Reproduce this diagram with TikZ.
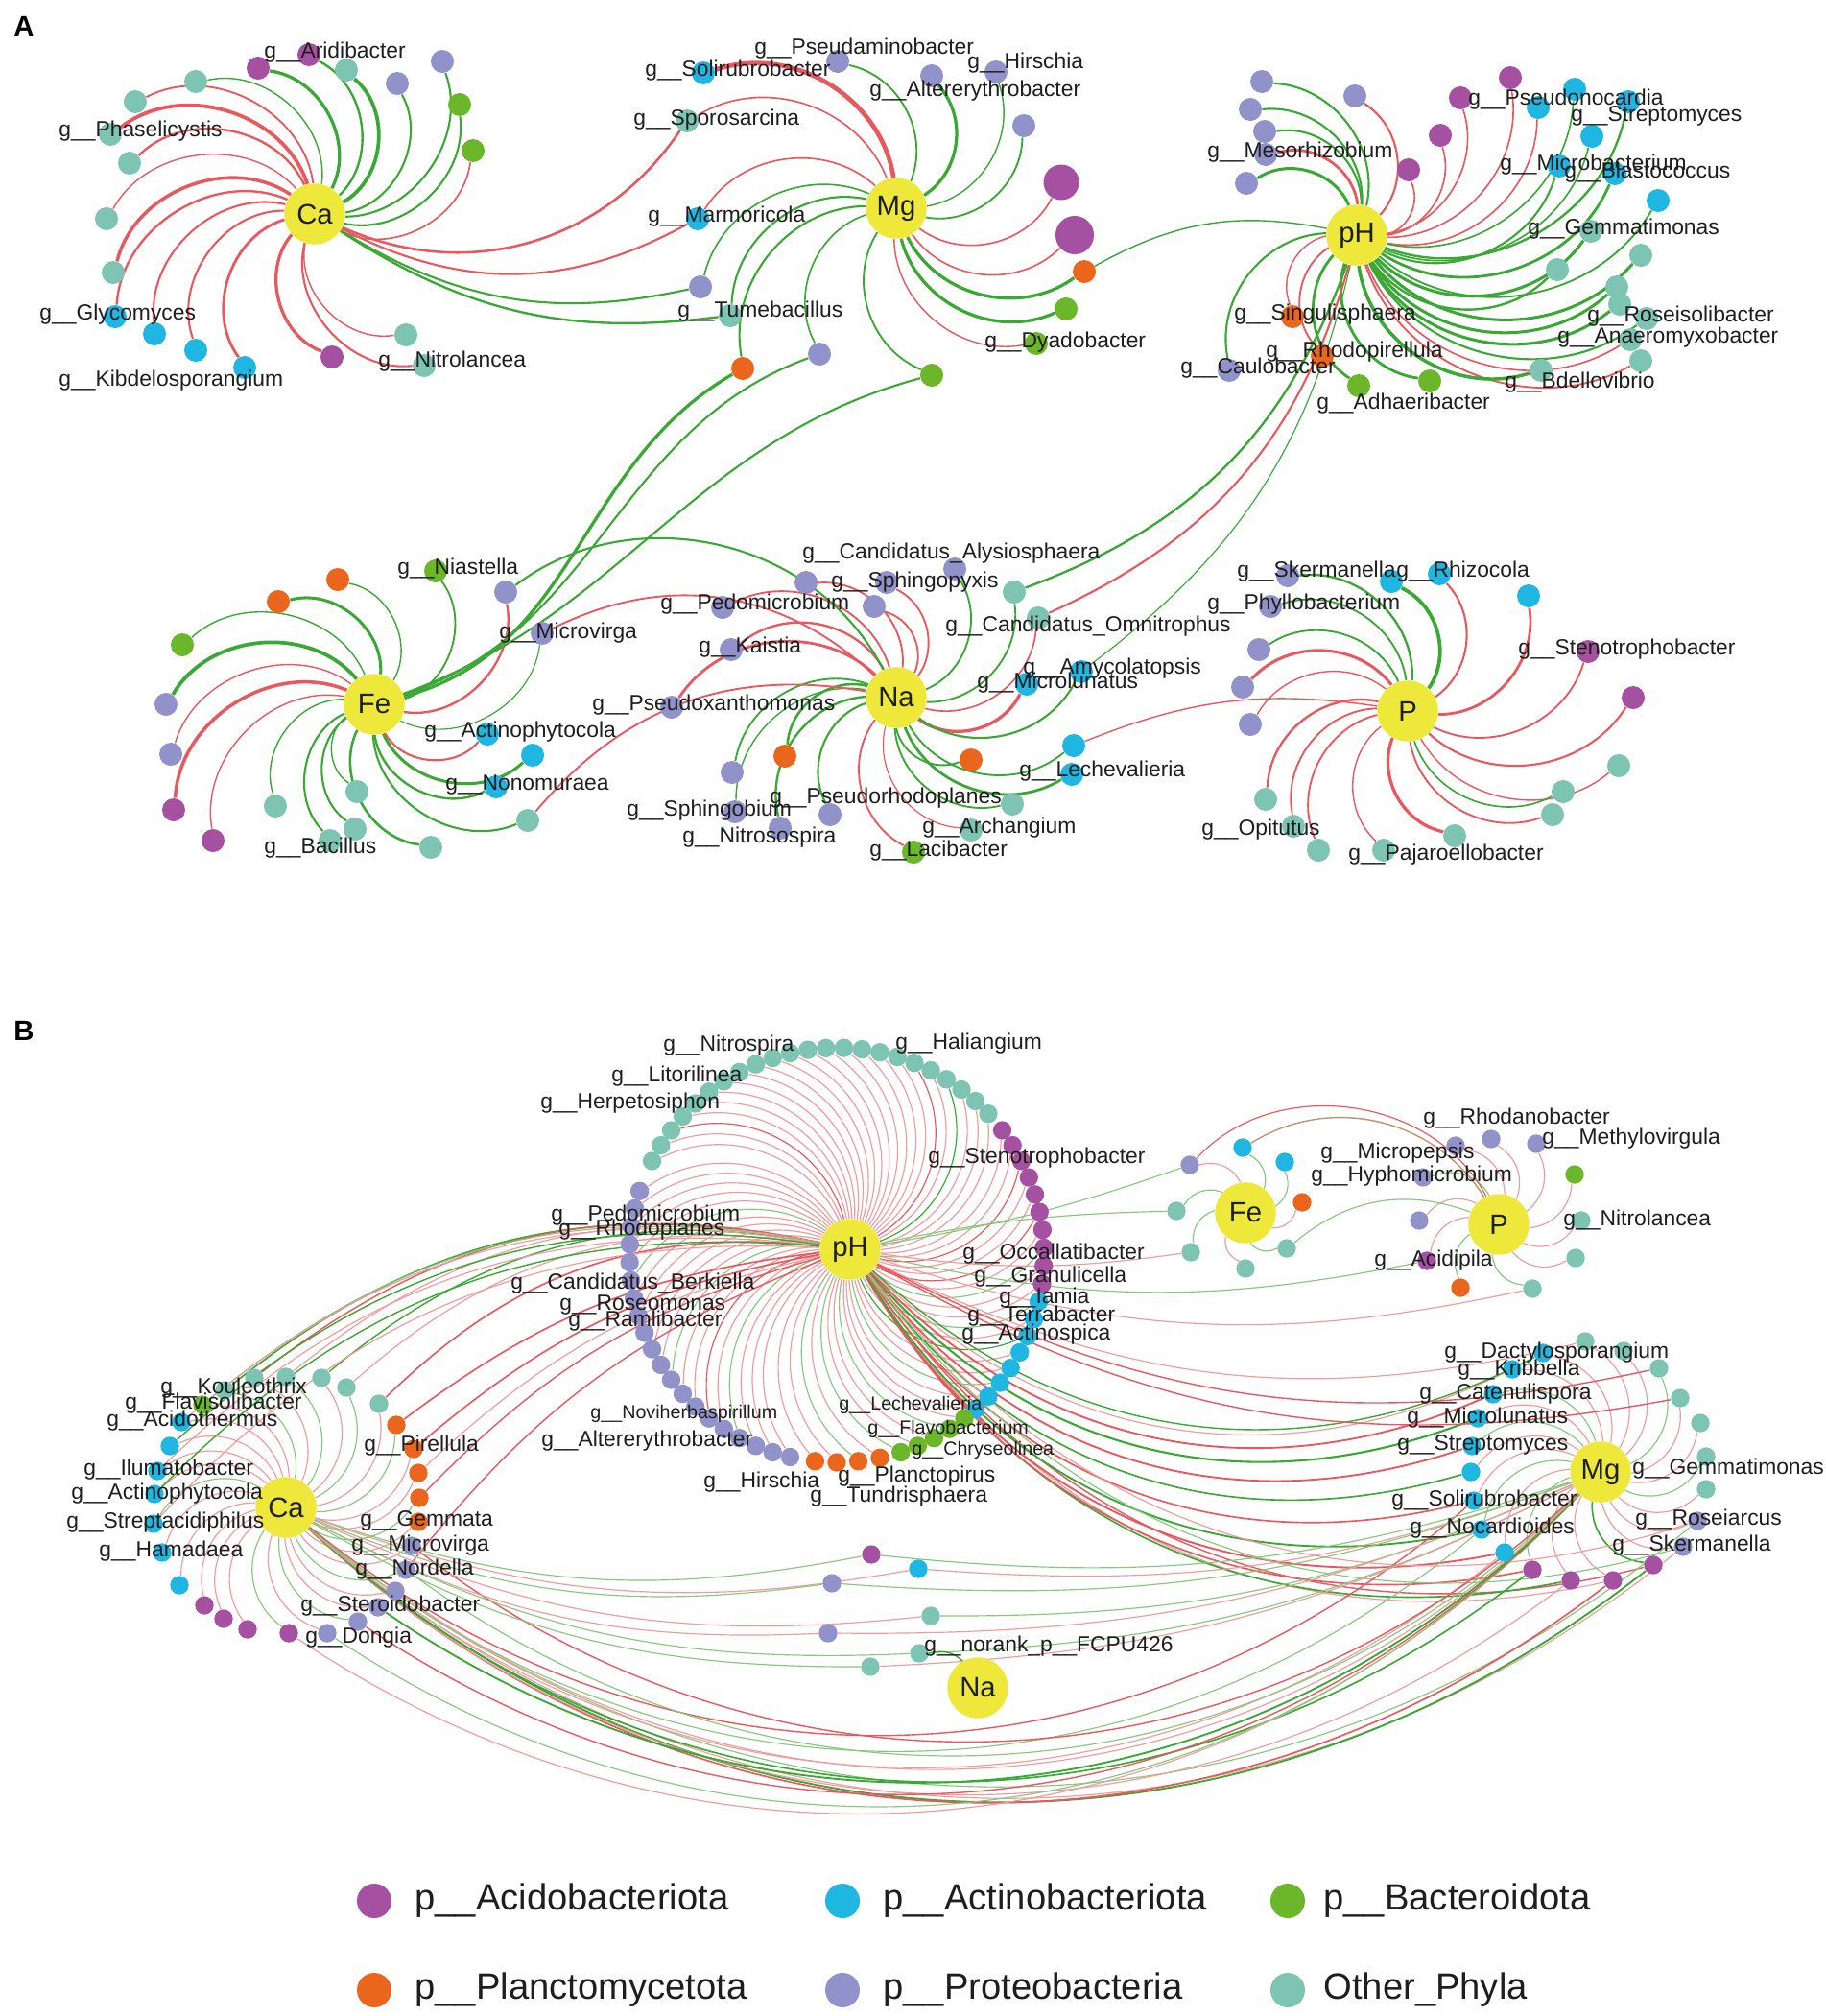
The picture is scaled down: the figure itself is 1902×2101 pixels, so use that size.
\documentclass[tikz,border=0pt]{standalone}
\usepackage{fontspec}
\setmainfont{Liberation Sans}
\definecolor{cAc}{RGB}{165,80,160}
\definecolor{cAn}{RGB}{32,182,226}
\definecolor{cBa}{RGB}{108,182,42}
\definecolor{cPl}{RGB}{234,102,28}
\definecolor{cPr}{RGB}{146,146,202}
\definecolor{cOt}{RGB}{126,196,178}
\definecolor{hubY}{RGB}{238,232,58}
\definecolor{eR}{RGB}{232,88,94}
\definecolor{eG}{RGB}{58,168,52}
\definecolor{eRl}{RGB}{240,155,158}
\definecolor{eGl}{RGB}{135,200,125}
\definecolor{eBr}{RGB}{190,150,110}
\definecolor{txt}{RGB}{30,30,30}
\pgfdeclarelayer{back}
\pgfdeclarelayer{bg}
\pgfsetlayers{back,bg,main}
\tikzset{
  lf/.style={circle,fill=#1,minimum size=0.36cm,inner sep=0pt,draw=none},
  lb/.style={circle,fill=#1,minimum size=0.29cm,inner sep=0pt,draw=none},
  hub/.style={circle,fill=hubY,minimum size=0.95cm,inner sep=0pt,text=txt,font=\fontsize{12.5}{14}\selectfont},
  lab/.style={anchor=west,inner sep=0pt,text=txt,font=\fontsize{9.75}{11}\selectfont},
  labs/.style={anchor=west,inner sep=0pt,text=txt,font=\fontsize{8.4}{10}\selectfont},
  legdot/.style={circle,fill=#1,minimum size=0.54cm,inner sep=0pt},
  legtxt/.style={anchor=west,inner sep=0pt,text=txt,font=\fontsize{16.3}{18}\selectfont},
  panel/.style={inner sep=0pt,text=black,font=\bfseries\fontsize{12.5}{14}\selectfont}
}
\newcommand\mknodes[2]{\foreach \n/\x/\y/\c/\e/\w in #2 {\node[#1=\c] (\n) at (\x,-\y) {};}}
\newcommand\mkedges[3]{\foreach \n/\x/\y/\c/\e/\w in #3 {\draw[draw=\e,line width=\w pt] (#1) to[bend right=#2] (\n);}}
\newcommand\mkring[3]{\foreach \a/\e [count=\i] in #3 {\node[lb=#1] (#2\i) at ({872+216*cos(\a)},{-1308+216*sin(\a)}) {};}}
\newcommand\mkringedges[2]{\foreach \a/\e [count=\i] in #2 {\draw[draw=\e,line width=0.5pt] (bpH) to[bend right=45] (#1\i);}}

\def\LCa{ca1/269/71/cAc/eG/1.4, ca2/322/57/cAc/eG/1.0, ca3/361/73/cOt/eG/1.6, ca4/414/87/cPr/eG/0.9, ca5/461/64/cPr/eG/0.9, ca6/479/109/cBa/eG/0.9, ca7/493/157/cBa/eR/0.7, ca8/204/85/cOt/eG/0.6, ca9/141/106/cOt/eR/0.8, ca10/115/140/cOt/eR/1.6, ca11/135/170/cOt/eR/1.0, ca12/111/228/cOt/eR/0.6, ca13/118/284/cOt/eR/1.5, ca14/120/330/cAn/eR/1.0, ca15/161/348/cAn/eR/0.9, ca16/204/365/cAn/eR/0.9, ca17/255/383/cAn/eR/1.2, ca18/346/372/cAc/eR/1.4, ca19/423/349/cOt/eR/0.6, ca20/442/381/cOt/eR/0.9}
\def\LMg{mg1/733/76/cAn/eR/2.0, mg2/873/64/cPr/eG/0.8, mg3/971/79/cPr/eG/1.4, mg4/1038/75/cPr/eG/0.6, mg5/1067/131/cPr/eG/0.8, mg8/1130/283/cPl/eG/1.4, mg9/1111/322/cBa/eG/1.4, mg10/1080/358/cBa/eR/0.6, mg11/971/391/cBa/eG/0.8, mg12/854/369/cPr/eG/0.7, mg13/774/384/cPl/eG/0.9, mg14/761/329/cOt/eG/0.9, mg15/730/299/cPr/eG/0.7, mg16/727/228/cAn/eR/0.7, mg17/716/126/cOt/eR/0.7}
\def\LpH{ph1/1315/85/cPr/eG/0.9, ph2/1303/114/cPr/eG/0.9, ph3/1318/137/cPr/eG/0.9, ph4/1319/161/cPr/eR/1.2, ph5/1299/191/cPr/eG/1.3, ph6/1412/100/cPr/eR/0.9, ph7/1468/177/cAc/eR/0.7, ph8/1501/141/cAc/eR/0.7, ph9/1522/102/cAc/eR/0.7, ph10/1574/81/cAc/eR/0.7, ph11/1603/112/cAn/eR/0.7, ph12/1641/93/cAn/eG/0.7, ph13/1697/106/cAn/eG/1.0, ph14/1659/142/cAn/eG/0.7, ph15/1625/173/cAn/eG/0.9, ph16/1683/181/cAn/eG/1.2, ph17/1728/209/cAn/eG/0.8, ph18/1658/241/cOt/eG/1.3, ph19/1623/281/cOt/eG/1.0, ph20/1710/266/cOt/eG/1.3, ph21/1685/299/cOt/eG/1.3, ph22/1688/317/cOt/eG/1.3, ph23/1716/332/cOt/eG/0.9, ph24/1699/354/cOt/eR/0.7, ph25/1710/376/cOt/eR/0.8, ph26/1606/386/cOt/eG/1.5, ph27/1490/397/cBa/eG/1.2, ph28/1416/402/cBa/eG/1.2, ph29/1378/371/cPl/eR/0.8, ph30/1347/330/cPl/eR/0.6, ph31/1281/386/cPr/eG/0.9}
\def\LFe{fe1/352/604/cPl/eG/0.6, fe2/290/627/cPl/eG/1.3, fe3/190/672/cBa/eG/0.6, fe4/173/734/cPr/eG/1.6, fe5/178/786/cPr/eR/0.6, fe6/181/844/cAc/eR/1.5, fe7/222/876/cAc/eR/0.6, fe8/287/840/cOt/eG/0.6, fe9/372/825/cOt/eG/0.6, fe10/370/864/cOt/eG/0.9, fe11/344/876/cOt/eG/0.9, fe12/449/883/cOt/eG/1.1, fe13/550/855/cOt/eG/0.9, fe14/517/820/cAn/eG/1.0, fe15/555/787/cAn/eG/1.3, fe16/508/765/cAn/eR/0.9, fe17/565/660/cPr/eG/0.5, fe18/527/617/cPr/eR/1.0, fe19/454/595/cBa/eG/0.8}
\def\LNa{na1/840/607/cPr/eR/0.8, na2/924/607/cPr/eR/0.8, na3/995/593/cPr/eG/0.8, na4/911/632/cPr/eR/0.8, na5/753/633/cPr/eR/0.8, na6/762/677/cPr/eR/1.0, na7/700/737/cPr/eR/1.2, na8/763/805/cPr/eG/0.8, na9/818/788/cPl/eG/1.1, na10/766/846/cPr/eG/0.6, na11/813/863/cPr/eG/1.0, na12/865/849/cPr/eG/0.9, na13/952/888/cBa/eR/0.8, na14/1012/865/cOt/eR/0.5, na15/1055/838/cOt/eG/0.8, na16/1012/792/cPl/eG/0.8, na17/1117/807/cAn/eG/1.2, na18/1119/777/cAn/eG/0.8, na19/1070/713/cAn/eR/1.4, na20/1127/700/cAn/eG/0.9, na21/1057/617/cOt/eG/0.8, na22/1082/644/cOt/eR/0.7}
\def\LP{p1/1342/600/cPr/eG/1.0, p2/1450/606/cAn/eG/1.6, p3/1500/598/cAn/eR/0.9, p4/1593/621/cAn/eR/1.2, p5/1324/632/cPr/eG/0.8, p6/1312/677/cPr/eG/0.8, p7/1295/716/cPr/eR/1.3, p8/1303/755/cPr/eR/0.6, p9/1655/679/cAc/eR/0.8, p10/1702/727/cAc/eR/0.9, p11/1687/798/cOt/eR/0.6, p12/1629/825/cOt/eG/0.7, p13/1618/849/cOt/eR/0.8, p14/1516/871/cOt/eR/1.4, p15/1442/886/cOt/eR/0.6, p16/1374/886/cOt/eR/0.8, p17/1348/861/cOt/eR/0.8, p18/1319/833/cOt/eR/1.0}

\def\LbFe{f1/1240/1214/cPr/eRl/0.5, f2/1295/1196/cAn/eGl/0.5, f3/1339/1211/cAn/eGl/0.5, f4/1357/1253/cPl/eRl/0.5, f5/1226/1262/cOt/eGl/0.5, f6/1241/1305/cOt/eGl/0.5, f7/1298/1322/cOt/eRl/0.5, f8/1341/1301/cOt/eGl/0.5}
\def\LbP{q1/1554/1187/cPr/eRl/0.5, q2/1517/1194/cPr/eRl/0.5, q3/1601/1192/cPr/eRl/0.5, q4/1483/1227/cPr/eGl/0.5, q5/1641/1224/cBa/eRl/0.5, q6/1479/1272/cPr/eRl/0.5, q7/1648/1272/cOt/eRl/0.5, q8/1487/1314/cAc/eRl/0.5, q9/1522/1342/cPl/eGl/0.5, q10/1642/1311/cOt/eRl/0.5, q11/1597/1343/cOt/eGl/0.5}
\def\LbCa{c1/234/1449/cOt/eGl/0.5, c2/265/1436/cOt/eRl/0.5, c3/298/1435/cOt/eGl/0.5, c4/335/1436/cOt/eRl/0.5, c5/361/1446/cOt/eGl/0.5, c6/395/1463/cOt/eRl/0.5, c7/211/1464/cBa/eRl/0.5, c8/189/1482/cAn/eRl/0.5, c9/177/1507/cAn/eRl/0.5, c10/164/1533/cAn/eRl/0.5, c11/161/1557/cAn/eRl/0.5, c12/160/1588/cAn/eGl/0.5, c13/169/1618/cAn/eRl/0.5, c14/187/1652/cAn/eRl/0.5, c15/213/1673/cAc/eRl/0.5, c16/233/1687/cAc/eRl/0.5, c17/258/1698/cAc/eRl/0.5, c18/301/1702/cAc/eGl/0.5, c19/341/1702/cPr/eRl/0.5, c20/373/1690/cPr/eGl/0.5, c21/394/1675/cPr/eRl/0.5, c22/412/1658/cPr/eRl/0.5, c23/423/1636/cPr/eGl/0.5, c24/429/1611/cPr/eRl/0.5, c25/436/1586/cPl/eRl/0.5, c26/437/1561/cPl/eGl/0.5, c27/436/1535/cPl/eRl/0.5, c28/431/1510/cPl/eRl/0.5, c29/413/1485/cPl/eGl/0.5}
\def\LbMg{m1/1652/1398/cOt/eRl/0.5, m2/1692/1408/cOt/eRl/0.5, m3/1729/1426/cOt/eGl/0.5, m4/1751/1457/cOt/eRl/0.5, m5/1772/1483/cOt/eRl/0.5, m6/1778/1518/cOt/eGl/0.5, m7/1778/1552/cOt/eRl/0.5, m8/1769/1585/cPr/eRl/0.5, m9/1754/1612/cPr/eRl/0.5, m10/1723/1631/cAc/eG/0.7, m11/1681/1647/cAc/eRl/0.5, m12/1637/1647/cAc/eRl/0.5, m13/1597/1636/cAc/eGl/0.5, m14/1568/1618/cAn/eRl/0.5, m15/1544/1594/cAn/eGl/0.5, m16/1536/1564/cAn/eRl/0.5, m17/1533/1534/cAn/eRl/0.5, m18/1534/1507/cAn/eGl/0.5, m19/1540/1478/cAn/eRl/0.5, m20/1556/1453/cAn/eGl/0.5, m21/1576/1427/cAn/eRl/0.5, m22/1608/1410/cAn/eRl/0.5}
\def\RT{153/eRl,148/eRl,143/eR,138/eRl,133/eRl,128/eRl,123/eRl,118/eRl,113/eRl,108/eRl,103/eRl,98/eRl,93/eRl,88/eRl,83/eRl,78/eRl,73/eRl,68/eR,63/eRl,58/eG,53/eRl,48/eRl,43/eRl}
\def\RP{37/eRl,32/eRl,27/eR,22/eRl,17/eRl,12/eR,7/eRl,2/eGl,-3/eRl,-8/eRl}
\def\RA{-13/eGl,-18/eRl,-23/eG,-28/eRl,-33/eRl,-38/eGl,-43/eRl,-48/eRl}
\def\RB{-52/eRl,-57/eGl,-62/eRl,-67/eRl,-72/eGl}
\def\RO{-78/eRl,-84/eGl,-90/eRl,-96/eRl}
\def\RL{-103/eRl,-108/eRl,-113/eRl,-118/eGl,-123/eRl,-128/eR,-133/eRl,-138/eRl,-143/eGl,-148/eRl,-153/eRl,-158/eRl,-163/eRl,-168/eRl,-173/eGl,-178/eRl,-183/eRl,-188/eRl,-193/eRl,-198/eRl}

\begin{document}
\begin{tikzpicture}[x=0.015cm,y=0.015cm]
\begin{pgfonlayer}{back}
\fill[white] (0,0) rectangle (1902,-2101);
\end{pgfonlayer}
\useasboundingbox (0,0) rectangle (1902,-2101);

\node[panel] (pA) at (25,-27) {A};
\node[panel] (pB) at (25,-1074) {B};

% ================= PANEL A nodes =================
\node[hub] (aCa) at (328,-223) {Ca};
\node[hub] (aMg) at (934,-217) {Mg};
\node[hub] (apH) at (1414,-245) {pH};
\node[hub] (aFe) at (390,-734) {Fe};
\node[hub] (aNa) at (934,-727) {Na};
\node[hub] (aP) at (1467,-741) {P};
\mknodes{lf}{\LCa}
\mknodes{lf}{\LMg}
\mknodes{lf}{\LpH}
\mknodes{lf}{\LFe}
\mknodes{lf}{\LNa}
\mknodes{lf}{\LP}
\node[circle,fill=cAc,minimum size=0.555cm,inner sep=0pt] (mg6) at (1106,-190) {};
\node[circle,fill=cAc,minimum size=0.6cm,inner sep=0pt] (mg7) at (1120,-245) {};

% ================= PANEL B nodes =================
\node[hub] (bpH) at (886,-1302) {pH};
\node[hub] (bFe) at (1298,-1264) {Fe};
\node[hub] (bP) at (1562,-1276) {P};
\node[hub] (bCa) at (298,-1571) {Ca};
\node[hub] (bMg) at (1668,-1534) {Mg};
\node[hub] (bNa) at (1019,-1759) {Na};
\mkring{cOt}{rt}{\RT}
\mkring{cAc}{rp}{\RP}
\mkring{cAn}{ra}{\RA}
\mkring{cBa}{rb}{\RB}
\mkring{cPl}{ro}{\RO}
\mkring{cPr}{rl}{\RL}
\mknodes{lb}{\LbFe}
\mknodes{lb}{\LbP}
\mknodes{lb}{\LbCa}
\mknodes{lb}{\LbMg}
\foreach \n/\x/\y/\c in {n1/908/1620/cAc, n2/957/1635/cAn, n3/867/1650/cPr, n4/970/1684/cOt, n5/863/1702/cPr, n6/958/1723/cOt, n7/907/1737/cOt}
  {\node[lb=\c] (\n) at (\x,-\y) {};}

% ================= EDGES (one background layer block) =================
\begin{pgfonlayer}{bg}
\mkedges{aCa}{55}{\LCa}
\mkedges{aMg}{50}{\LMg}
\mkedges{apH}{50}{\LpH}
\mkedges{aFe}{55}{\LFe}
\mkedges{aNa}{50}{\LNa}
\mkedges{aP}{50}{\LP}
\draw[draw=eR,line width=0.7pt] (aMg) to[bend right=50] (mg6);
\draw[draw=eR,line width=0.7pt] (aMg) to[bend right=50] (mg7);
\draw[draw=eR,line width=1.1pt] (aCa) to[bend right=40] (mg17);
\draw[draw=eR,line width=0.9pt] (aCa) to[bend right=28] (mg16);
\draw[draw=eG,line width=0.9pt] (aCa) to[bend right=22] (mg15);
\draw[draw=eG,line width=1.0pt] (aCa) to[bend right=20] (mg14);
\draw[draw=eG,line width=0.6pt] (apH) to[bend right=20] (mg8);
\draw[draw=eG,line width=1.4pt] (aFe) to[out=15,in=210] (mg13);
\draw[draw=eG,line width=0.9pt] (aFe) to[out=18,in=200] (mg12);
\draw[draw=eG,line width=0.9pt] (aFe) to[out=20,in=195] (mg11);
\draw[draw=eG,line width=0.9pt] (aNa) to[bend right=50] (fe18);
\draw[draw=eR,line width=0.8pt] (aNa) to[bend right=35] (fe17);
\draw[draw=eR,line width=0.8pt] (aNa) to[bend right=30] (fe13);
\draw[draw=eG,line width=1.0pt] (apH) to[bend left=25] (na21);
\draw[draw=eR,line width=0.9pt] (apH) to[bend left=25] (na22);
\draw[draw=eG,line width=0.5pt] (apH) to[bend left=20] (na20);
\draw[draw=eR,line width=0.6pt] (aP) to[bend right=15] (na18);

\mkringedges{rt}{\RT}
\mkringedges{rp}{\RP}
\mkringedges{ra}{\RA}
\mkringedges{rb}{\RB}
\mkringedges{ro}{\RO}
\mkringedges{rl}{\RL}
\mkedges{bFe}{40}{\LbFe}
\mkedges{bP}{40}{\LbP}
\mkedges{bCa}{45}{\LbCa}
\mkedges{bMg}{45}{\LbMg}
\foreach \t/\e/\w in {c1/eG/0.7, c2/eR/0.6, c3/eRl/0.5, c4/eG/0.6, c5/eRl/0.5, c6/eR/0.7, c7/eGl/0.5, c8/eRl/0.5, c9/eG/0.6, c10/eRl/0.5, c11/eG/0.6, c12/eRl/0.5}
  {\draw[draw=\e,line width=\w pt] (bpH) to[bend right=25] (\t);}
\foreach \t/\e/\w in {c29/eR/0.7, c28/eR/0.7, c27/eRl/0.5, c26/eR/0.6, c23/eR/0.6}
  {\draw[draw=\e,line width=\w pt] (bpH) to[bend right=15] (\t);}
\foreach \t/\e/\w in {m10/eR/0.6, m11/eRl/0.5, m12/eG/0.7, m13/eR/0.7, m14/eR/0.8, m15/eG/0.8, m16/eR/0.7, m17/eG/0.7, m18/eR/0.8, m19/eG/0.9, m20/eR/0.8, m21/eRl/0.5, m22/eG/0.6, m9/eGl/0.5, m8/eRl/0.5}
  {\draw[draw=\e,line width=\w pt] (bpH) to[bend right=35] (\t);}
\foreach \t/\e/\w in {m1/eRl/0.5, m3/eR/0.6, m4/eR/0.6}
  {\draw[draw=\e,line width=\w pt] (bpH) to[bend right=20] (\t);}
\foreach \t/\e/\w in {m8/eGl/0.5, m9/eRl/0.5, m10/eG/0.8, m11/eR/0.7, m12/eRl/0.5, m13/eG/0.7, m14/eRl/0.5, m15/eGl/0.5, m16/eR/0.6}
  {\draw[draw=\e,line width=\w pt] (bCa) to[bend right=40] (\t);}
\foreach \t/\e/\w in {c18/eRl/0.5, c19/eGl/0.5, c20/eR/0.6, c21/eG/0.8, c22/eRl/0.5, c23/eGl/0.5, c24/eR/0.6}
  {\draw[draw=\e,line width=\w pt] (bMg) to[bend left=40] (\t);}
\foreach \t/\e in {n1/eGl, n2/eRl, n3/eGl, n4/eRl, n5/eRl, n6/eGl, n7/eGl}
  {\draw[draw=\e,line width=0.5pt] (bCa) to[bend right=15] (\t);}
\foreach \t/\e in {n1/eGl, n2/eRl, n3/eGl, n4/eGl, n5/eRl, n6/eGl, n7/eRl}
  {\draw[draw=\e,line width=0.5pt] (bMg) to[bend left=12] (\t);}
\draw[draw=eG,line width=0.6pt] (bNa) to[bend right=30] (n6);
\draw[draw=eR,line width=0.5pt] (bP) to[bend right=55] (f1);
\draw[draw=eBr,line width=0.6pt] (bP) to[bend right=45] (f2);
\draw[draw=eGl,line width=0.5pt] (bP) to[bend right=30] (f8);
\draw[draw=eGl,line width=0.5pt] (bpH) to[bend left=5] (f5);
\draw[draw=eRl,line width=0.5pt] (bpH) to[bend right=8] (f6);
\draw[draw=eGl,line width=0.5pt] (bpH) to[bend right=5] (f1);
\draw[draw=eGl,line width=0.5pt] (bpH) to[bend right=12] (q8);
\draw[draw=eRl,line width=0.5pt] (bpH) to[bend right=15] (q11);
\end{pgfonlayer}

% labels A
\foreach \x/\y/\t in {275/55/Aridibacter, 61/137/Phaselicystis, 41/328/Glycomyces, 61/397/Kibdelosporangium, 394/377/Nitrolancea,
 786/51/Pseudaminobacter, 672/74/Solirubrobacter, 1008/66/Hirschia, 906/95/Altererythrobacter, 660/125/Sporosarcina, 675/226/Marmoricola, 706/325/Tumebacillus, 1026/357/Dyadobacter,
 1530/104/Pseudonocardia, 1637/121/Streptomyces, 1258/159/Mesorhizobium, 1563/172/Microbacterium, 1630/180/Blastococcus, 1592/239/Gemmatimonas, 1286/328/Singulisphaera, 1654/330/Roseisolibacter, 1319/367/Rhodopirellula, 1623/352/Anaeromyxobacter, 1230/384/Caulobacter, 1568/399/Bdellovibrio, 1372/421/Adhaeribacter,
 414/593/Niastella, 520/660/Microvirga, 442/763/Actinophytocola, 464/818/Nonomuraea, 275/884/Bacillus,
 836/577/Candidatus\_Alysiosphaera, 866/607/Sphingopyxis, 688/630/Pedomicrobium, 985/653/Candidatus\_Omnitrophus, 728/675/Kaistia, 1066/697/Amycolatopsis, 1018/712/Microlunatus, 617/735/Pseudoxanthomonas, 1062/804/Lechevalieria, 802/832/Pseudorhodoplanes, 653/845/Sphingobium, 961/863/Archangium, 711/873/Nitrosospira, 906/887/Lacibacter,
 1289/596/Skermanella, 1455/596/Rhizocola, 1258/630/Phyllobacterium, 1582/677/Stenotrophobacter, 1252/865/Opitutus, 1405/891/Pajaroellobacter}
 {\node[lab] at (\x,-\y) {g\_\_\t};}

% labels B
\foreach \x/\y/\t in {691/1090/Nitrospira, 933/1088/Haliangium, 637/1122/Litorilinea, 563/1150/Herpetosiphon, 967/1207/Stenotrophobacter, 574/1267/Pedomicrobium, 582/1282/Rhodoplanes, 1003/1307/Occallatibacter, 1015/1331/Granulicella, 532/1338/Candidatus\_Berkiella, 583/1360/Roseomonas, 592/1377/Ramlibacter, 1041/1353/Iamia, 1008/1372/Terrabacter, 1002/1391/Actinospica, 564/1502/Altererythrobacter, 733/1545/Hirschia, 873/1539/Planctopirus, 844/1560/Tundrisphaera,
 1483/1166/Rhodanobacter, 1607/1187/Methylovirgula, 1376/1202/Micropepsis, 1366/1226/Hyphomicrobium, 1629/1272/Nitrolancea, 1432/1314/Acidipila,
 167/1447/Kouleothrix, 130/1463/Flavisolibacter, 111/1481/Acidothermus, 87/1532/Ilumatobacter, 74/1557/Actinophytocola, 69/1587/Streptacidiphilus, 103/1617/Hamadaea, 379/1507/Pirellula, 375/1585/Gemmata, 366/1611/Microvirga, 370/1636/Nordella, 313/1674/Steroidobacter, 318/1707/Dongia,
 1505/1410/Dactylosporangium, 1519/1428/Kribbella, 1479/1453/Catenulispora, 1466/1478/Microlunatus, 1456/1506/Streptomyces, 1701/1531/Gemmatimonas, 1450/1564/Solirubrobacter, 1469/1593/Nocardioides, 1704/1584/Roseiarcus, 1680/1611/Skermanella,
 963/1716/norank\_p\_\_FCPU426}
 {\node[lab] at (\x,-\y) {g\_\_\t};}
\foreach \x/\y/\t in {615/1473/Noviherbaspirillum, 874/1464/Lechevalieria, 904/1489/Flavobacterium, 950/1511/Chryseolinea}
 {\node[labs] at (\x,-\y) {g\_\_\t};}

% ================= LEGEND =================
\node[legdot=cAc] (lg1) at (390,-1981) {};
\node[legtxt] (lt1) at (432,-1981) {p\_\_Acidobacteriota};
\node[legdot=cAn] (lg2) at (878,-1981) {};
\node[legtxt] (lt2) at (920,-1981) {p\_\_Actinobacteriota};
\node[legdot=cBa] (lg3) at (1342,-1981) {};
\node[legtxt] (lt3) at (1379,-1981) {p\_\_Bacteroidota};
\node[legdot=cPl] (lg4) at (390,-2074) {};
\node[legtxt] (lt4) at (432,-2074) {p\_\_Planctomycetota};
\node[legdot=cPr] (lg5) at (878,-2074) {};
\node[legtxt] (lt5) at (920,-2074) {p\_\_Proteobacteria};
\node[legdot=cOt] (lg6) at (1342,-2074) {};
\node[legtxt] (lt6) at (1379,-2074) {Other\_Phyla};
\end{tikzpicture}
\end{document}
